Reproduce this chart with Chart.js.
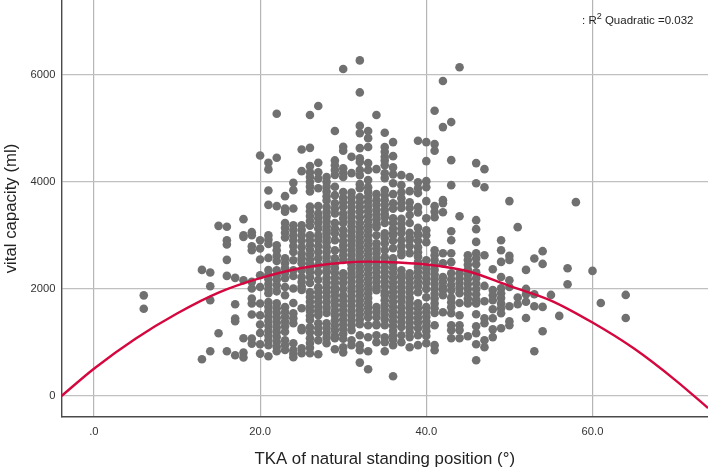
<!DOCTYPE html>
<html>
<head>
<meta charset="utf-8">
<script src="https://cdn.jsdelivr.net/npm/chart.js@4"></script>
<style>
html, body { margin: 0; padding: 0; background: #fff; }
#caixa { position: relative; width: 708px; height: 469px; }
#r2 { position: absolute; left: 582px; top: 14px; font: 11.5px "Liberation Sans", Arial, sans-serif; color: #222; white-space: nowrap; }
#r2 sup { font-size: 9px; line-height: 0; }
</style>
</head>
<body>
<div id="caixa">
  <canvas id="grafico" width="708" height="469"></canvas>
  <div id="r2">: R<sup>2</sup> Quadratic =0.032</div>
</div>
<script>
// angulo (eixo x) de cada coluna de pontos
const angulos = [6, 13, 14, 15, 16, 17, 18, 19, 20, 21, 22, 23, 24, 25, 26, 27, 28, 29, 30, 31, 32, 33, 34, 35,
    36, 37, 38, 39, 40, 41, 42, 43, 44, 45, 46, 47, 48, 49, 50, 51, 52, 53, 54, 55, 56, 57, 58, 60, 61, 64];

// capacidade vital, uma lista por coluna
const capacidades = [
    [1880, 1630],
    [2355, 686],
    [2306, 2050, 1790, 835],
    [3178, 1172],
    [3160, 2910, 2830, 2543, 2243, 835],
    [2206, 1714, 1447, 1396, 760],
    [3303, 3003, 2972, 2163, 1078, 811, 718],
    [3060, 3003, 2798, 2723, 2131, 2007, 1820, 1727, 1521, 1073, 979],
    [4493, 2910, 2755, 2549, 2256, 2037, 1727, 1508, 1334, 1178, 966, 792],
    [4355, 4232, 3839, 3570, 3000, 2920, 2840, 2579, 2353, 2270, 2180, 2090, 2000, 1920, 1757, 1670, 1580, 1490, 1400, 1310, 1220, 1130, 1040, 948, 742],
    [5271, 4449, 3546, 2815, 2720, 2620, 2520, 2350, 2250, 2170, 2070, 1955, 1730, 1640, 1550, 1460, 1370, 1280, 1190, 1100, 1010, 920, 835],
    [3733, 3503, 3440, 3230, 3140, 3050, 2960, 2570, 2480, 2390, 2300, 2200, 2037, 1882, 1660, 1570, 1480, 1390, 1300, 1200, 1040, 950, 860],
    [3981, 3845, 3503, 3190, 3100, 3000, 2910, 2800, 2690, 2536, 2350, 2240, 2007, 1738, 1545, 1450, 1360, 985, 854, 790, 723],
    [4605, 4200, 3190, 3100, 3000, 2900, 2780, 2660, 2570, 2480, 2350, 2220, 2130, 2040, 1980, 1640, 1270, 1230, 890, 800],
    [5247, 4635, 4293, 4180, 4090, 4000, 3910, 3820, 3540, 3450, 3360, 3270, 3180, 3000, 2910, 2820, 2730, 2640, 2550, 2470, 2390, 2310, 2220, 2110, 1938, 1850, 1760, 1670, 1590, 1500, 1420, 1285, 1190, 1080, 990, 900, 800],
    [5415, 4355, 4180, 4060, 3880, 3546, 3410, 3320, 3230, 3130, 3000, 2910, 2800, 2690, 2570, 2440, 2310, 2170, 2030, 1940, 1850, 1760, 1670, 1590, 1510, 1360, 1270, 1180, 1040, 780],
    [4090, 4000, 3910, 3820, 3730, 3650, 3530, 3440, 3350, 3260, 3170, 3090, 3040, 2960, 2870, 2780, 2690, 2600, 2510, 2420, 2340, 2310, 2210, 2120, 2030, 1940, 1850, 1750, 1650, 1550, 1360, 1270, 1180, 1090, 985],
    [4950, 4400, 4310, 4220, 4130, 3907, 3751, 3600, 3500, 3410, 3230, 3130, 3040, 2910, 2720, 2570, 2480, 2390, 2300, 2210, 2120, 2030, 1960, 1880, 1790, 1700, 1600, 1510, 1415, 1320, 1230, 1130, 1080, 873],
    [6106, 4655, 4580, 4255, 4170, 4090, 3810, 3700, 3620, 3530, 3410, 3320, 3230, 3100, 3003, 2900, 2810, 2720, 2630, 2540, 2290, 2200, 2110, 2000, 1880, 1790, 1700, 1610, 1520, 1430, 1340, 1250, 1160, 1070, 910, 815],
    [4467, 4162, 3800, 3710, 3620, 3530, 3440, 3350, 3260, 3170, 3080, 2990, 2910, 2820, 2730, 2640, 2550, 2460, 2380, 2290, 2220, 2130, 2040, 1950, 1860, 1770, 1680, 1590, 1500, 1410, 1320, 1230, 1040, 950],
    [6268, 5670, 5047, 4910, 4630, 4440, 4370, 4220, 4125, 3957, 3880, 3715, 3620, 3530, 3440, 3340, 3230, 3140, 3050, 2960, 2870, 2780, 2690, 2600, 2510, 2420, 2330, 2240, 2150, 2060, 1970, 1880, 1790, 1700, 1610, 1520, 1430, 1340, 1135, 950, 854, 624],
    [4950, 4816, 4650, 4350, 4220, 4032, 3900, 3810, 3720, 3630, 3540, 3450, 3360, 3270, 3180, 3090, 3003, 2910, 2820, 2730, 2640, 2550, 2460, 2370, 2280, 2190, 2100, 2010, 1920, 1830, 1740, 1650, 1560, 1470, 1322, 1097, 835, 500],
    [5247, 4237, 3770, 3658, 3570, 3480, 3390, 3300, 3210, 3154, 3003, 2850, 2760, 2670, 2580, 2490, 2400, 2310, 2220, 2130, 2040, 1975, 1660, 1570, 1470, 1322, 1340, 1135, 1004],
    [4916, 4650, 4560, 4470, 4400, 4310, 4160, 4070, 3845, 3750, 3660, 3570, 3480, 3400, 3340, 3230, 3040, 2950, 2850, 2723, 2590, 2500, 2410, 2320, 2230, 2140, 2050, 1940, 1880, 1790, 1700, 1610, 1520, 1430, 1322, 1097, 1004, 835],
    [4742, 4480, 4270, 4140, 3974, 3770, 3600, 3500, 3320, 3230, 3130, 3040, 3003, 2900, 2760, 2570, 2480, 2390, 2300, 2210, 2120, 2030, 1940, 1850, 1760, 1670, 1580, 1490, 1400, 1310, 1220, 1130, 1050, 950, 368],
    [4125, 3938, 3807, 3695, 3600, 3510, 3310, 3220, 3130, 3040, 2910, 2800, 2700, 2630, 2350, 2256, 2220, 2130, 2040, 1950, 1860, 1770, 1660, 1564, 1470, 1380, 1290, 1135, 1004],
    [4090, 3826, 3620, 3510, 3380, 3230, 3050, 2960, 2910, 2800, 2667, 2293, 2200, 2110, 2020, 1930, 1830, 1730, 1640, 1550, 1460, 1370, 1280, 1190, 1100, 910],
    [4766, 3990, 3880, 3790, 3530, 3430, 3140, 3030, 3003, 2900, 2780, 2685, 2600, 2500, 2410, 2320, 2230, 2140, 2050, 1940, 1730, 1640, 1550, 1460, 1370, 1265, 1135, 950],
    [4742, 4387, 4013, 3900, 3640, 3321, 3097, 3003, 2873, 2536, 2387, 2300, 2200, 2110, 2000, 1845, 1660, 1570, 1480, 1390, 1300, 1210, 1120, 985],
    [5327, 4705, 4580, 3546, 3440, 3340, 2723, 2630, 2540, 2450, 2360, 2270, 2180, 2090, 2000, 1910, 1820, 1730, 1640, 1550, 1322, 950, 854],
    [5882, 5022, 3658, 3600, 3433, 2667, 2480, 2220, 2130, 2040, 1975, 1882, 1564],
    [5116, 4405, 3938, 3078, 2910, 2667, 2500, 2293, 2180, 2072, 1975, 1840, 1750, 1660, 1545, 1322, 1230, 1080],
    [6140, 3358, 2293, 2200, 2110, 2020, 1920, 1738, 1508, 1322, 1230, 1080],
    [2630, 2540, 2450, 2360, 2270, 2180, 2090, 2000, 1910, 1820, 1730, 1115],
    [4350, 3974, 3284, 3116, 2878, 2667, 2570, 2460, 2310, 2200, 2100, 2000, 1900, 1800, 1730, 1527, 1304, 1172, 966, 668],
    [4237, 3900, 2630, 2056, 1770, 1452, 1360, 1041, 910],
    [2368, 1980, 1880, 1790, 1620, 1452, 1245, 1100],
    [2910, 2723, 2505, 2224, 2013, 1920, 1830, 1730, 1640, 1545, 1265],
    [3640, 2617, 2540, 2163, 2037, 1676, 1396, 1322],
    [3154, 1840, 1714],
    [2355, 2000, 1900, 1760, 1458],
    [2568, 1900, 1676, 835],
    [2705, 2467, 1664, 1210],
    [1888],
    [1496],
    [2387, 2088],
    [3621],
    [2337],
    [1738],
    [1888, 1458]
];

// curva quadratica
const curvaX = [-3.9, 0, 5, 10, 15, 20, 25, 30, 33, 35, 40, 45, 50, 55, 60, 65, 70, 73.9];
const curvaY = [0, 510, 1070, 1540, 1930, 2200, 2390, 2490, 2510, 2505, 2456, 2330, 2056, 1783, 1372, 886, 293, -224];

const ticksX = [0, 20, 40, 60];
const ticksY = [0, 2000, 4000, 6000];

let pontos = [];
for (let i = 0; i < angulos.length; i++) {
    for (let valor of capacidades[i]) {
        pontos.push({ x: angulos[i], y: valor });
    }
}
let curva = curvaX.map((x, i) => ({ x: x, y: curvaY[i] }));

const fonte = '"Liberation Sans", Arial, sans-serif';

new Chart(document.getElementById('grafico').getContext('2d'), {
    type: 'scatter',
    data: {
        datasets: [
            {
                type: 'line',
                data: curva,
                borderColor: '#d5073f',
                borderWidth: 2.4,
                pointRadius: 0,
                cubicInterpolationMode: 'monotone',
                fill: false,
                order: 0
            },
            {
                data: pontos,
                backgroundColor: '#707070',
                borderWidth: 0,
                pointRadius: 4.3,
                order: 1
            }
        ]
    },
    options: {
        responsive: false,
        animation: false,
        layout: { padding: 0, autoPadding: false },
        plugins: { legend: { display: false }, tooltip: { enabled: false } },
        scales: {
            x: {
                type: 'linear',
                min: -3.9,
                max: 73.9,
                afterBuildTicks: (s) => { s.ticks = ticksX.map(v => ({ value: v })); },
                afterFit: (s) => { s.height = 52; s.paddingLeft = 0; s.paddingRight = 0; },
                grid: { color: '#b5b5b5', lineWidth: 1.2, drawTicks: false },
                border: { color: '#4a4a4a', width: 1.4 },
                ticks: {
                    maxRotation: 0,
                    padding: 8,
                    color: '#333',
                    font: { family: fonte, size: 11.2 },
                    callback: (v) => v === 0 ? '.0' : v.toFixed(1)
                },
                title: {
                    display: true,
                    text: 'TKA of natural standing position (°)',
                    color: '#222',
                    font: { family: fonte, size: 16.8 },
                    padding: { top: 12, bottom: 0 }
                }
            },
            y: {
                type: 'linear',
                min: -392,
                max: 7396,
                afterBuildTicks: (s) => { s.ticks = ticksY.map(v => ({ value: v })); },
                afterFit: (s) => { s.width = 61.5; s.paddingTop = 0; s.paddingBottom = 0; },
                grid: { color: '#c0c0c0', lineWidth: 1.2, drawTicks: false },
                border: { color: '#4a4a4a', width: 1.4 },
                ticks: {
                    padding: 6,
                    color: '#333',
                    font: { family: fonte, size: 11.2 },
                    callback: (v) => String(v)
                },
                title: {
                    display: true,
                    text: 'vital capacity (ml)',
                    color: '#222',
                    font: { family: fonte, size: 16.8 },
                    padding: { top: 1, bottom: 0 }
                }
            }
        }
    }
});
</script>
</body>
</html>
